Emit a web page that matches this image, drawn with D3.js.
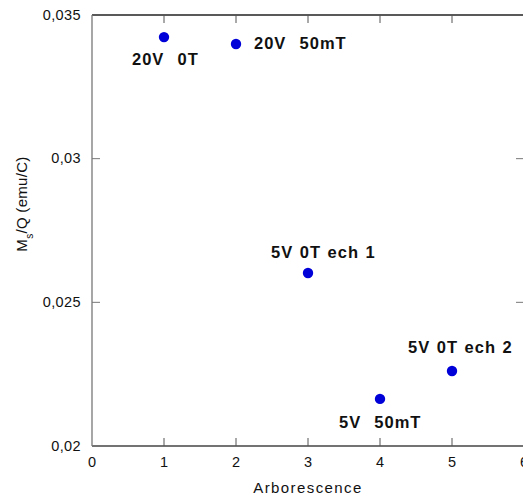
<!DOCTYPE html>
<html>
<head>
<meta charset="utf-8">
<script src="https://cdn.jsdelivr.net/npm/d3@7"></script>
<style>
  body { margin: 0; background: #fff; }
  text { font-family: "Liberation Sans", Arial, sans-serif; }
</style>
</head>
<body>
<div id="chart"></div>
<script>
// data
var xValues = [1, 2, 3, 4, 5];
var yValues = [0.03423, 0.03399, 0.02602, 0.02164, 0.02261];
var pointLabels = ["20V  0T", "20V  50mT", "5V 0T ech 1", "5V  50mT", "5V 0T ech 2"];
var xTicks = [0, 1, 2, 3, 4, 5, 6];
var yTicks = [0.02, 0.025, 0.03, 0.035];
var yTickLabels = ["0,02", "0,025", "0,03", "0,035"];

var width = 523, height = 497;
var margin = { top: 15, right: -1, bottom: 51, left: 92 };

var svg = d3.select("#chart").append("svg")
  .attr("width", width)
  .attr("height", height);

var x = d3.scaleLinear().domain([0, 6]).range([margin.left, width - margin.right]);
var y = d3.scaleLinear().domain([0.02, 0.035]).range([height - margin.bottom, margin.top]);

var tickLen = 8;

// frame
svg.append("line").attr("x1", x(0)).attr("x2", x(6)).attr("y1", y(0.035)).attr("y2", y(0.035))
  .attr("stroke", "#222").attr("stroke-width", 1.3);
svg.append("line").attr("x1", x(0)).attr("x2", x(6)).attr("y1", y(0.02)).attr("y2", y(0.02))
  .attr("stroke", "#444").attr("stroke-width", 1.3);
svg.append("line").attr("x1", x(0)).attr("x2", x(0)).attr("y1", y(0.02)).attr("y2", y(0.035))
  .attr("stroke", "#777").attr("stroke-width", 1.3);

// x ticks, bottom (up) and top (down)
var inner = xTicks.slice(1, -1);
svg.selectAll(".xtb").data(inner).enter().append("line")
  .attr("x1", d => x(d)).attr("x2", d => x(d))
  .attr("y1", y(0.02)).attr("y2", y(0.02) - tickLen)
  .attr("stroke", "#555");
svg.selectAll(".xtt").data(inner).enter().append("line")
  .attr("x1", d => x(d)).attr("x2", d => x(d))
  .attr("y1", y(0.035)).attr("y2", y(0.035) + tickLen)
  .attr("stroke", "#555");

// y ticks, left and right
var yInner = yTicks.slice(1, -1);
svg.selectAll(".ytl").data(yInner).enter().append("line")
  .attr("x1", x(0)).attr("x2", x(0) + tickLen)
  .attr("y1", d => y(d)).attr("y2", d => y(d))
  .attr("stroke", "#777");
svg.selectAll(".ytr").data(yInner).enter().append("line")
  .attr("x1", x(6)).attr("x2", x(6) - tickLen)
  .attr("y1", d => y(d)).attr("y2", d => y(d))
  .attr("stroke", "#777");

// tick labels
svg.selectAll(".xl").data(xTicks).enter().append("text")
  .attr("x", d => x(d)).attr("y", y(0.02) + 21)
  .attr("text-anchor", "middle")
  .style("font-size", "14.5px").attr("fill", "#111")
  .text(d => d);
svg.selectAll(".yl").data(yTicks).enter().append("text")
  .attr("x", x(0) - 11).attr("y", d => y(d) + 4.5)
  .attr("text-anchor", "end")
  .style("font-size", "14.5px").style("letter-spacing", "0.4px").attr("fill", "#111")
  .text((d, i) => yTickLabels[i]);

// axis titles
svg.append("text")
  .attr("x", x(3)).attr("y", 493)
  .attr("text-anchor", "middle")
  .style("font-size", "15px").style("letter-spacing", "1.4px").attr("fill", "#111")
  .text("Arborescence");

var yt = svg.append("text")
  .attr("transform", "translate(27,204) rotate(-90)")
  .attr("text-anchor", "middle")
  .style("font-size", "15px").style("letter-spacing", "0.3px").attr("fill", "#111");
yt.append("tspan").text("M");
yt.append("tspan").attr("dy", 6).style("font-size", "10px").text("s");
yt.append("tspan").attr("dy", -6).text("/Q (emu/C)");

// points
svg.selectAll(".pt").data(xValues).enter().append("circle")
  .attr("cx", d => x(d))
  .attr("cy", (d, i) => y(yValues[i]))
  .attr("r", 5.2)
  .attr("fill", "#0000d8");

// point labels: text start offsets relative to each point
var labelOffsets = [[-32, 28], [18, 5], [-37, -15], [-41, 29], [-44, -18]];
svg.selectAll(".pl").data(xValues).enter().append("text")
  .attr("x", (d, i) => x(d) + labelOffsets[i][0])
  .attr("y", (d, i) => y(yValues[i]) + labelOffsets[i][1])
  .attr("text-anchor", "start")
  .style("font-size", "16.5px").style("font-weight", "bold")
  .style("letter-spacing", "1px").style("word-spacing", "1px")
  .style("white-space", "pre")
  .attr("fill", "#111")
  .text((d, i) => pointLabels[i]);
</script>
</body>
</html>
